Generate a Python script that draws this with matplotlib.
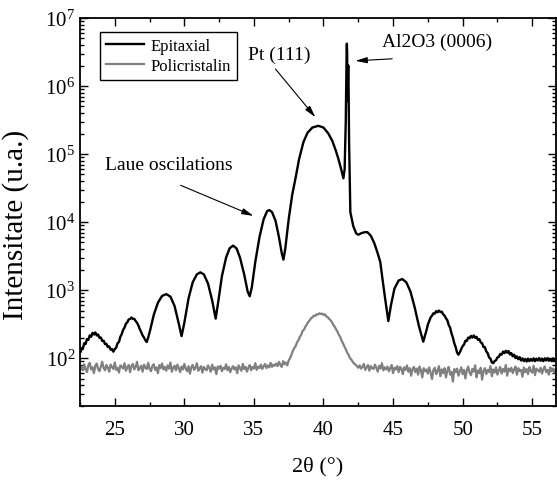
#XRD scan of the epitaxial and the polycrystalline Pt film, log scale
import numpy as np
import matplotlib.pyplot as plt

#epitaxial film, 2theta positions and counts
epi_2theta = [22.56, 22.6, 22.7, 22.8, 22.9, 23.0, 23.1, 23.2, 23.3, 23.4, 23.5, 23.6, 23.7, 23.8, 23.9,
              24.0, 24.1, 24.2, 24.3, 24.4, 24.5, 24.6, 24.7, 24.8, 24.9, 25.0, 25.1, 25.2, 25.3, 25.4,
              25.5, 25.6, 25.7, 25.8, 25.9, 26.0, 26.1, 26.2, 26.3, 26.4, 26.5, 26.6, 26.7, 26.8, 26.9,
              27.0, 27.1, 27.2, 27.3, 27.4, 27.55, 27.8, 28.1, 28.4, 28.7, 29.0, 29.3, 29.6, 29.8, 30.0,
              30.3, 30.6, 30.9, 31.15, 31.4, 31.7, 32.0, 32.25, 32.45, 32.7, 33.0, 33.25, 33.5, 33.75, 34.0,
              34.3, 34.55, 34.7, 34.85, 35.1, 35.4, 35.7, 35.95, 36.1, 36.3, 36.55, 36.8, 37.0, 37.12, 37.25,
              37.5, 37.75, 37.98, 38.25, 38.56, 38.85, 39.2, 39.63, 40.0, 40.35, 40.64, 40.9, 41.07, 41.25, 41.43,
              41.52, 41.6, 41.66, 41.68, 41.70, 41.73, 41.76, 41.78, 41.80, 41.84, 41.93, 42.14, 42.35, 42.5, 42.75,
              43.0, 43.15, 43.4, 43.65, 43.87, 44.08, 44.25, 44.45, 44.66, 44.85, 45.1, 45.4, 45.66, 45.95, 46.25,
              46.55, 46.85, 47.17, 47.3, 47.4, 47.5, 47.6, 47.7, 47.8, 47.9, 48.0, 48.1, 48.2, 48.3, 48.4,
              48.5, 48.6, 48.7, 48.8, 48.9, 49.0, 49.1, 49.2, 49.3, 49.4, 49.5, 49.6, 49.7, 49.8, 49.9,
              50.0, 50.1, 50.2, 50.3, 50.4, 50.5, 50.6, 50.7, 50.8, 50.9, 51.0, 51.1, 51.2, 51.3, 51.4,
              51.5, 51.6, 51.7, 51.8, 51.9, 52.0, 52.1, 52.2, 52.3, 52.4, 52.5, 52.6, 52.7, 52.8, 52.9,
              53.0, 53.1, 53.2, 53.3, 53.4, 53.5, 53.6, 53.7, 53.8, 53.9, 54.0, 54.1, 54.2, 54.3, 54.4,
              54.5, 54.6, 54.7, 54.8, 54.9, 55.0, 55.1, 55.2, 55.3, 55.4, 55.5, 55.6, 55.7, 55.8, 55.9,
              56.0, 56.1, 56.2, 56.3, 56.4, 56.5, 56.6, 56.7]
epi_counts = [125, 140, 135, 165, 160, 190, 185, 215, 205, 235, 222, 238, 215, 222, 198,
              200, 178, 180, 160, 162, 145, 148, 133, 136, 124, 135, 142, 165, 172, 205,
              225, 260, 280, 320, 335, 370, 375, 395, 375, 378, 350, 330, 300, 265, 240,
              215, 200, 182, 172, 200, 260, 430, 650, 820, 870, 800, 580, 320, 210, 330,
              750, 1300, 1700, 1820, 1700, 1250, 700, 380, 700, 1600, 3000, 4100, 4500, 4100, 3000,
              1700, 950, 810, 1100, 2600, 6000, 11000, 14500, 15000, 14000, 10500, 6000, 3500, 2800, 4000,
              11000, 25000, 43000, 85000, 150000, 205000, 245000, 260000, 245000, 200000, 155000, 110000, 85000, 62000, 44000,
              60000, 300000, 2800000, 4200000, 3000000, 600000, 1500000, 2000000, 1200000, 150000, 14000, 8700, 6800, 6500, 6900,
              7100, 7100, 6300, 4900, 3600, 2600, 1400, 700, 350, 600, 1050, 1380, 1450, 1300, 950,
              560, 300, 174, 215, 255, 310, 350, 395, 420, 455, 450, 490, 470, 500, 475,
              480, 440, 420, 385, 360, 305, 280, 230, 200, 165, 145, 120, 112, 122, 135,
              150, 158, 180, 178, 200, 195, 212, 200, 215, 198, 205, 185, 190, 170, 165,
              145, 145, 125, 118, 102, 98, 86, 84, 90, 93, 102, 104, 115, 112, 124,
              118, 128, 120, 127, 113, 118, 106, 112, 100, 106, 96, 103, 92, 99, 90,
              97, 89, 98, 90, 97, 91, 99, 90, 98, 92, 100, 91, 98, 90, 99,
              92, 100, 91, 97, 90, 99, 92, 97]

#polycrystalline film, one reading every 0.1 deg from 22.6 to 56.7
poly_counts = [74, 66, 81, 70, 62, 78, 85, 68, 73, 60,
               77, 83, 69, 64, 75, 88, 71, 66, 79, 72,
               63, 80, 74, 69, 86, 67, 72, 61, 78, 75,
               70, 84, 65, 73, 79, 62, 76, 82, 68, 74,
               88, 66, 71, 77, 63, 80, 72, 69, 85, 70,
               64, 76, 81, 67, 73, 60, 79, 71, 83, 68,
               74, 65, 78, 70, 86, 63, 72, 77, 66, 80,
               71, 62, 75, 68, 82, 70, 64, 76, 59, 73,
               79, 67, 72, 84, 65, 70, 76, 61, 74, 69,
               66, 78, 71, 63, 80, 68, 73, 58, 75, 70,
               77, 64, 72, 69, 81, 66, 74, 62, 70, 76,
               68, 73, 60, 78, 71, 65, 82, 69, 74, 63,
               72, 79, 66, 74, 70, 84, 67, 75, 71, 80,
               69, 76, 82, 71, 78, 73, 85, 74, 80, 77,
               83, 76, 88, 79, 74, 90, 81, 86, 78, 92,
               100, 112, 128, 140, 150, 170, 182, 205, 220, 250,
               262, 290, 310, 340, 355, 385, 395, 420, 415, 440,
               435, 455, 445, 450, 430, 440, 410, 400, 380, 360,
               340, 310, 290, 265, 245, 220, 205, 180, 165, 148,
               135, 120, 112, 100, 95, 88, 83, 80, 76, 72,
               78, 70, 74, 82, 67, 73, 79, 65, 76, 71,
               69, 80, 72, 63, 77, 70, 84, 66, 73, 68,
               75, 64, 71, 79, 60, 72, 68, 76, 62, 74,
               70, 58, 73, 67, 78, 63, 71, 55, 69, 74,
               62, 70, 57, 75, 66, 52, 71, 64, 68, 59,
               73, 61, 49, 67, 72, 58, 65, 76, 54, 68,
               60, 71, 52, 66, 74, 57, 63, 45, 69, 62,
               70, 55, 64, 73, 58, 67, 50, 66, 75, 61,
               56, 69, 63, 78, 52, 66, 60, 72, 48, 65,
               71, 58, 67, 62, 76, 54, 68, 61, 73, 57,
               66, 74, 59, 69, 63, 79, 55, 70, 64, 72,
               60, 68, 75, 57, 71, 64, 67, 53, 73, 62,
               69, 58, 74, 65, 61, 77, 56, 70, 66, 63,
               72, 59, 68, 75, 62, 67, 57, 73, 64, 70,
               61, 68]
poly_2theta = np.linspace(22.6, 56.7, len(poly_counts))

series_labels = ['Epitaxial', 'Policristalin']
x_ticks = [25, 30, 35, 40, 45, 50, 55]

plt.rcParams['font.family'] = ['Liberation Serif', 'DejaVu Serif']
plt.rcParams['mathtext.fontset'] = 'stix'

fig = plt.figure(figsize=(5.57, 4.81), dpi=100)
ax = fig.add_axes([0.1436, 0.1538, 0.8546, 0.8067])

ax.plot(epi_2theta, epi_counts, color='black', lw=1.7, label=series_labels[0])
ax.plot(poly_2theta, poly_counts, color='#808080', lw=1.6, label=series_labels[1])

ax.set_yscale('log')
ax.set_xlim(22.56, 56.71)
ax.set_ylim(19.7, 1e7)
ax.set_xticks(x_ticks)
ax.set_xticks(np.arange(22.5, 57, 2.5), minor=True)
ax.tick_params(which='both', direction='in', top=True, right=True, labelsize=15, width=1)
ax.tick_params(which='major', length=6)
ax.tick_params(which='minor', length=3)
ax.tick_params(axis='x', pad=10)
for sp in ax.spines.values():
    sp.set_linewidth(1.3)

ax.set_xlabel('2θ (°)', fontsize=16, labelpad=12)
ax.set_ylabel('Intensitate (u.a.)', fontsize=21)
ax.yaxis.set_label_coords(-0.107, 0.469)

#annotations with arrows
arrow = dict(arrowstyle='-|>,head_length=0.7,head_width=0.18', color='black', lw=0.8,
             shrinkA=0, shrinkB=0)
ax.annotate('Pt (111)', xy=(36.85, 10**6.47), ha='center', va='center', fontsize=14)
ax.annotate('', xy=(39.42, 10**5.54), xytext=(36.55, 10**6.25), arrowprops=arrow)
ax.annotate('Al2O3 (0006)', xy=(48.13, 10**6.66), ha='center', va='center', fontsize=14)
ax.annotate('', xy=(42.29, 10**6.37), xytext=(44.94, 10**6.40), arrowprops=arrow)
ax.annotate('Laue oscilations', xy=(28.91, 10**4.84), ha='center', va='center', fontsize=14)
ax.annotate('', xy=(34.97, 10**4.09), xytext=(29.73, 10**4.54), arrowprops=arrow)

ax.legend(loc='upper left', bbox_to_anchor=(0.042, 0.964), borderaxespad=0, fontsize=12,
          frameon=True, fancybox=False, edgecolor='black', framealpha=1,
          handlelength=2.3, handletextpad=0.4, labelspacing=0.25, borderpad=0.35)

fig.savefig('out.png', dpi=100)
